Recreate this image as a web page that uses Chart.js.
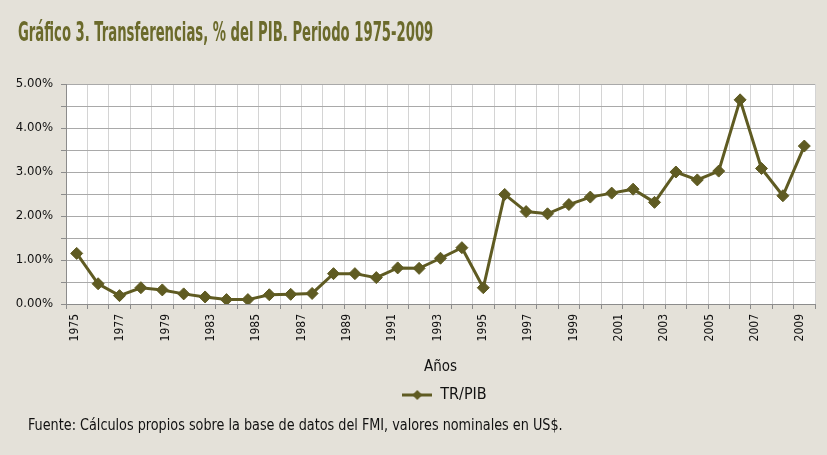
<!DOCTYPE html>
<html>
<head>
<meta charset="utf-8">
<title>Transferencias, % del PIB</title>
<script src="https://cdn.jsdelivr.net/npm/chart.js"></script>
<style>
  body {
    margin: 0;
    width: 827px;
    height: 455px;
    overflow: hidden;
    position: relative;
    background: #e4e1d9;
    font-family: 'DejaVu Sans Condensed', 'DejaVu Sans', sans-serif;
  }
  #titulo {
    position: absolute;
    left: 18px;
    top: 17px;
    font-size: 26px;
    font-weight: bold;
    color: #6b6a2b;
    white-space: nowrap;
    transform-origin: left top;
  }
  #wrap {
    position: absolute;
    left: 0;
    top: 0;
    width: 827px;
    height: 455px;
  }
  #fuente {
    position: absolute;
    left: 28px;
    top: 415px;
    font-size: 16px;
    color: #111;
    white-space: nowrap;
    transform-origin: left top;
  }
</style>
</head>
<body>
  <div id="wrap"><canvas id="grafico"></canvas></div>
  <div id="titulo">Gráfico 3. Transferencias, % del PIB. Periodo 1975-2009</div>
  <div id="fuente">Fuente: Cálculos propios sobre la base de datos del FMI, valores nominales en US$.</div>

<script>
  // data (percent of GDP)
  const years = ['1975','1976','1977','1978','1979','1980','1981','1982','1983','1984',
                 '1985','1986','1987','1988','1989','1990','1991','1992','1993','1994',
                 '1995','1996','1997','1998','1999','2000','2001','2002','2003','2004',
                 '2005','2006','2007','2008','2009'];
  const trPib = [1.15, 0.46, 0.19, 0.37, 0.32, 0.23, 0.16, 0.10, 0.10, 0.21,
                 0.22, 0.24, 0.69, 0.69, 0.60, 0.82, 0.81, 1.04, 1.28, 0.37,
                 2.49, 2.10, 2.05, 2.26, 2.43, 2.52, 2.61, 2.31, 3.00, 2.82,
                 3.02, 4.64, 3.08, 2.46, 3.59];
  // tick labels as printed under the axis
  const xTickLabels = ['1975','1977','1979','1983','1985','1987','1989','1991','1993',
                       '1995','1997','1999','2001','2003','2005','2007','2009'];
  const yMax = 5;
  const yStep = 0.5;

  const oliva = '#5f5b22';
  const fontFam = "'DejaVu Sans Condensed', 'DejaVu Sans', sans-serif";

  // squeeze the html texts to the widths they have in the original
  const titulo = document.getElementById('titulo');
  titulo.style.transform = 'scaleX(' + (415 / titulo.offsetWidth) + ')';
  const fuente = document.getElementById('fuente');
  fuente.style.transform = 'scaleX(' + (535 / fuente.offsetWidth) + ')';

  // legend icon: line with a diamond
  const icon = document.createElement('canvas');
  icon.width = 30; icon.height = 12;
  const ic = icon.getContext('2d');
  ic.strokeStyle = oliva; ic.lineWidth = 3;
  ic.beginPath(); ic.moveTo(0, 6); ic.lineTo(30, 6); ic.stroke();
  ic.fillStyle = oliva;
  ic.beginPath(); ic.moveTo(15, 1); ic.lineTo(20, 6); ic.lineTo(15, 11); ic.lineTo(10, 6); ic.closePath(); ic.fill();

  Chart.defaults.font.family = fontFam;
  Chart.defaults.color = '#111';

  const ctx = document.getElementById('grafico').getContext('2d');

  // white plot background
  const fondoPlot = {
    id: 'fondoPlot',
    beforeDraw(chart) {
      const a = chart.chartArea;
      chart.ctx.save();
      chart.ctx.fillStyle = '#ffffff';
      chart.ctx.fillRect(a.left, a.top, a.right - a.left, a.bottom - a.top);
      chart.ctx.restore();
    }
  };

  // center the legend under the plot area, not under the whole canvas
  const legendaCentrada = {
    id: 'legendaCentrada',
    afterLayout(chart) {
      const lg = chart.legend;
      lg.left = chart.chartArea.left + 4;
      lg.right = chart.chartArea.right + 4;
    }
  };

  const grafico = new Chart(ctx, {
    type: 'line',
    data: {
      labels: years,
      datasets: [{
        label: 'TR/PIB',
        data: trPib,
        borderColor: oliva,
        backgroundColor: oliva,
        borderWidth: 3,
        pointStyle: 'rectRot',
        pointRadius: 6,
        pointBorderWidth: 1,
        pointBackgroundColor: oliva,
        pointBorderColor: oliva,
        tension: 0,
        fill: false
      }]
    },
    options: {
      responsive: true,
      maintainAspectRatio: false,
      animation: false,
      layout: {
        padding: { left: 0, top: 84, right: 12, bottom: 42 }
      },
      plugins: {
        legend: {
          position: 'bottom',
          labels: {
            usePointStyle: true,
            pointStyleWidth: 30,
            boxHeight: 12,
            padding: 10,
            font: { size: 16 },
            color: '#111',
            generateLabels(chart) {
              const items = Chart.defaults.plugins.legend.labels.generateLabels(chart);
              items.forEach(it => { it.pointStyle = icon; });
              return items;
            }
          }
        },
        tooltip: { enabled: false }
      },
      scales: {
        x: {
          type: 'category',
          offset: true,
          grid: {
            offset: true,
            color: '#d4d4d4',
            tickColor: '#8c8c8c',
            tickLength: 5
          },
          border: { color: '#8c8c8c' },
          ticks: { display: false },
          afterFit(s) { s.height = 6; }
        },
        x2: {
          type: 'linear',
          position: 'bottom',
          min: -9 / 45.3125,
          max: 16 + 15 / 45.3125,
          grid: { display: false, drawTicks: false },
          border: { display: false },
          afterBuildTicks(ax) {
            ax.ticks = xTickLabels.map((_, i) => ({ value: i }));
          },
          ticks: {
            autoSkip: false,
            minRotation: 90,
            maxRotation: 90,
            padding: 4,
            font: { size: 12 },
            color: '#111',
            callback: v => xTickLabels[v] ?? ''
          },
          title: {
            display: true,
            text: 'Años',
            font: { size: 15 },
            color: '#111',
            padding: { top: 0, bottom: 1 }
          },
          afterFit(s) { s.height = 67; }
        },
        y: {
          min: 0,
          max: yMax,
          grid: {
            color: '#a9a9a9',
            tickColor: '#8c8c8c',
            tickLength: 5
          },
          border: { color: '#8c8c8c' },
          ticks: {
            stepSize: yStep,
            padding: 8,
            font: { size: 13 },
            color: '#111',
            callback: v => Number.isInteger(v) ? v.toFixed(2) + '%' : ''
          },
          afterFit(s) { s.width = 66; }
        }
      }
    },
    plugins: [fondoPlot, legendaCentrada]
  });
</script>
</body>
</html>
